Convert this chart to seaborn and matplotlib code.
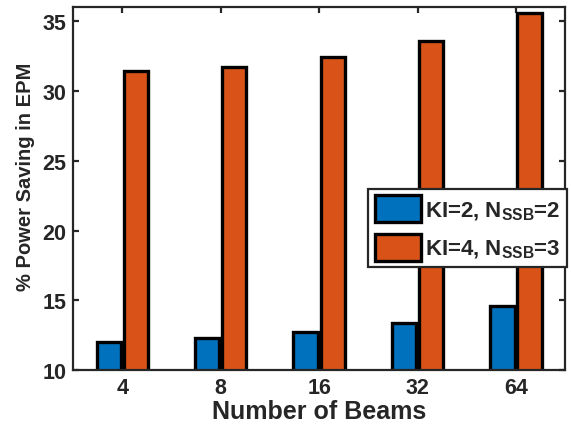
import numpy as np
import pandas as pd
import matplotlib
matplotlib.use("Agg")
import matplotlib.pyplot as plt
import seaborn as sns


# data
BEAMS = ["4", "8", "16", "32", "64"]
KI2_SAVING = [12.0, 12.3, 12.7, 13.4, 14.6]
KI4_SAVING = [31.4, 31.7, 32.4, 33.6, 35.6]
SERIES = [r"KI=2, N$_{\mathbf{SSB}}$=2", r"KI=4, N$_{\mathbf{SSB}}$=3"]
COLORS = ["#0072BD", "#D95319"]

df = pd.DataFrame({
    "beams": BEAMS * 2,
    "saving": KI2_SAVING + KI4_SAVING,
    "series": [SERIES[0]] * len(BEAMS) + [SERIES[1]] * len(BEAMS),
})

sns.set_style("white")
plt.rcParams["font.family"] = ["Liberation Sans", "DejaVu Sans"]
plt.rcParams["font.weight"] = "bold"
plt.rcParams["mathtext.fontset"] = "custom"
plt.rcParams["mathtext.bf"] = "Liberation Sans:bold"
plt.rcParams["mathtext.rm"] = "Liberation Sans:bold"
plt.rcParams["mathtext.default"] = "bf"

fig = plt.figure(figsize=(5.71, 4.31), dpi=100)
ax = fig.add_axes([0.128, 0.139, 0.862, 0.842])

sns.barplot(
    data=df, x="beams", y="saving", hue="series",
    palette=COLORS, width=0.55, gap=0.1,
    edgecolor="black", linewidth=2.4, saturation=1,
    ax=ax
)

ax.set_ylim(10, 36)
ax.set_xlim(-0.5, len(BEAMS) - 0.5)
ax.set_yticks([10, 15, 20, 25, 30, 35])

ax.set_xlabel("Number of Beams", fontsize=18, fontweight="bold", color="#262626", labelpad=1)
ax.set_ylabel("% Power Saving in EPM", fontsize=14.5, fontweight="bold", color="#262626",
              labelpad=5, y=0.535)

for sp in ax.spines.values():
    sp.set_visible(True)
    sp.set_color("#262626")
    sp.set_linewidth(1.6)

ax.tick_params(direction="in", length=4, width=1.6, color="#262626",
               labelsize=15.5, labelcolor="#262626", top=True, right=True,
               left=True, bottom=True)
ax.tick_params(axis="x", pad=5)
ax.tick_params(axis="y", pad=5)
for lab in ax.get_xticklabels() + ax.get_yticklabels():
    lab.set_fontweight("bold")

leg = ax.legend(
    loc="upper left", bbox_to_anchor=(0.6, 0.5), frameon=True,
    handlelength=2.05, handleheight=1.5, handletextpad=0.2,
    borderpad=0.3, labelspacing=0.5, borderaxespad=0, fancybox=False,
    prop={"weight": "bold", "size": 16}
)
leg.get_frame().set_edgecolor("#262626")
leg.get_frame().set_linewidth(1.6)
leg.get_frame().set_alpha(1)
for h in leg.legend_handles:
    h.set_edgecolor("black")
    h.set_linewidth(2.4)

fig.savefig("out.png", dpi=100)
